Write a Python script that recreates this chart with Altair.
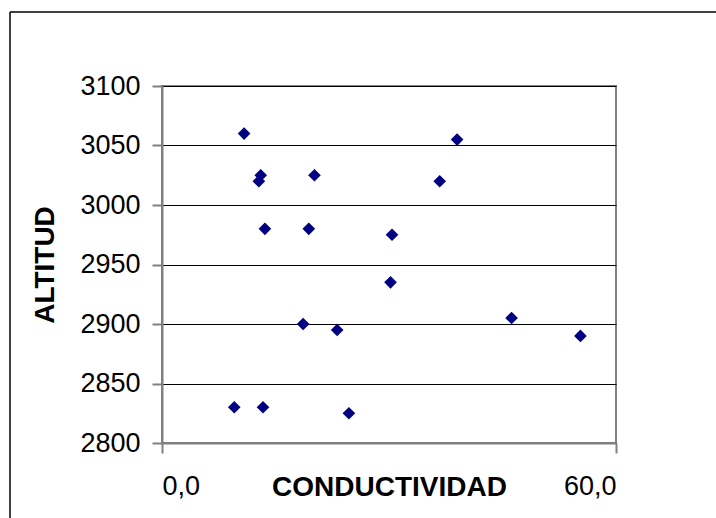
import altair as alt
import pandas as pd

conductividad = [10.85, 13.05, 12.8, 13.6, 19.4, 20.15, 18.65, 9.55, 13.35,
                 39.0, 36.7, 30.4, 30.2, 46.2, 23.15, 55.3, 24.7]
altitud = [3060, 3025, 3020, 2980, 2980, 3025, 2900, 2830, 2830,
           3055, 3020, 2975, 2935, 2905, 2895, 2890, 2825]
y_ticks = [2800, 2850, 2900, 2950, 3000, 3050, 3100]
x_ticks = [0, 60]

df = pd.DataFrame({"CONDUCTIVIDAD": conductividad, "ALTITUD": altitud})

FONT = "Liberation Sans"

points = alt.Chart(df).mark_point(
    shape="diamond", filled=True, color="#000080", size=160, opacity=1
).encode(
    x=alt.X("CONDUCTIVIDAD:Q",
            scale=alt.Scale(domain=[0, 60], nice=False, zero=False),
            axis=alt.Axis(values=x_ticks, grid=False,
                          labelExpr="replace(format(datum.value, '.1f'), '.', ',')",
                          labelFont=FONT, labelFontSize=27, labelColor="black",
                          labelPadding=20, tickSize=10, tickColor="#808080", tickWidth=2,
                          domainColor="#808080", domainWidth=2,
                          title="CONDUCTIVIDAD", titleFont=FONT, titleFontSize=28,
                          titleFontWeight="bold", titleColor="black",
                          titleBaseline="alphabetic", titleY=52)),
    y=alt.Y("ALTITUD:Q",
            scale=alt.Scale(domain=[2800, 3100], nice=False, zero=False),
            axis=alt.Axis(values=y_ticks, grid=True, gridColor="black", gridWidth=1,
                          format="d",
                          labelFont=FONT, labelFontSize=27, labelColor="black",
                          labelPadding=12, tickSize=10, tickColor="#808080", tickWidth=2,
                          domainColor="#808080", domainWidth=2,
                          title="ALTITUD", titleFont=FONT, titleFontSize=28,
                          titleFontWeight="bold", titleColor="black",
                          titleAngle=-90, titleBaseline="middle", titleX=-117)),
)

border = alt.Chart(pd.DataFrame({"a": [0]})).mark_rule(
    color="black", strokeWidth=1.5, clip=False
)
left_line = border.encode(x=alt.value(-152), y=alt.value(-74), y2=alt.value(500))
top_line = border.encode(x=alt.value(-152), x2=alt.value(700), y=alt.value(-74))

chart = alt.layer(left_line, top_line, points).properties(
    width=454, height=357,
    autosize=alt.AutoSizeParams(type="none"),
    padding={"left": 162, "top": 86, "right": 100, "bottom": 75},
    background="white",
).configure_view(stroke="#808080", strokeWidth=2)

chart.save("out.html", embed_options={"renderer": "svg", "actions": False})
